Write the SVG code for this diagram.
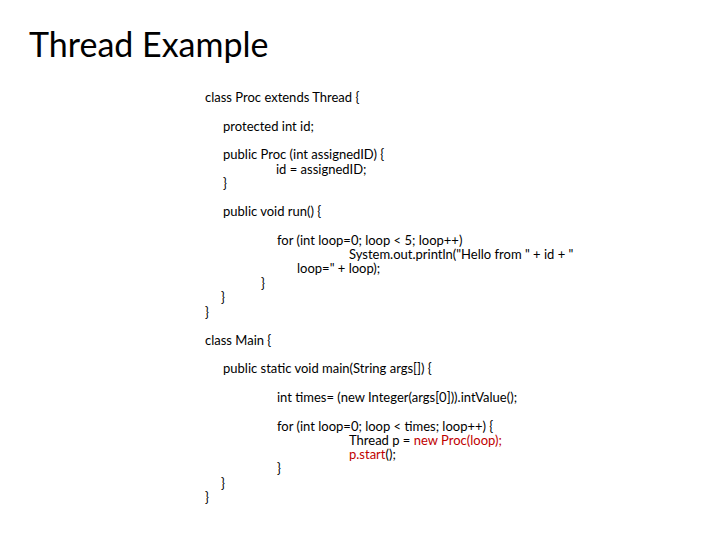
<svg xmlns="http://www.w3.org/2000/svg" width="720" height="540" viewBox="0 0 720 540">
<style>
.c{font-family:Lato,"Open Sans",sans-serif;font-size:13px;fill:#000}
.r{fill:#c00000}
.t{font-family:Lato,"Open Sans",sans-serif;font-size:34px;fill:#000}
</style>
<rect width="720" height="540" fill="#fff"/>
<text class="t" x="29" y="57">Thread Example</text>
<g id="code">
<text class="c" x="205" y="102">class Proc extends Thread {</text>
<text class="c" x="223" y="131">protected int id;</text>
<text class="c" x="223" y="159">public Proc (int assignedID) {</text>
<text class="c" x="276" y="174">id = assignedID;</text>
<text class="c" x="223" y="188">}</text>
<text class="c" x="223" y="216">public void run() {</text>
<text class="c" x="277" y="245">for (int loop=0; loop &lt; 5; loop++)</text>
<text class="c" x="349" y="259">System.out.println("Hello from " + id  + "</text>
<text class="c" x="297" y="273">loop=" + loop);</text>
<text class="c" x="261" y="288">}</text>
<text class="c" x="221" y="302">}</text>
<text class="c" x="205" y="317">}</text>
<text class="c" x="205" y="345">class Main {</text>
<text class="c" x="223" y="373">public static void main(String args[]) {</text>
<text class="c" x="277" y="402">int  times= (new Integer(args[0])).intValue();</text>
<text class="c" x="277" y="431">for (int loop=0; loop &lt; times; loop++) {</text>
<text class="c" x="349" y="445">Thread p = <tspan class="r">new Proc(loop);</tspan></text>
<text class="c" x="349" y="459"><tspan class="r">p.start</tspan>();</text>
<text class="c" x="277" y="473">}</text>
<text class="c" x="221" y="488">}</text>
<text class="c" x="205" y="502">}</text>
</g>
</svg>
